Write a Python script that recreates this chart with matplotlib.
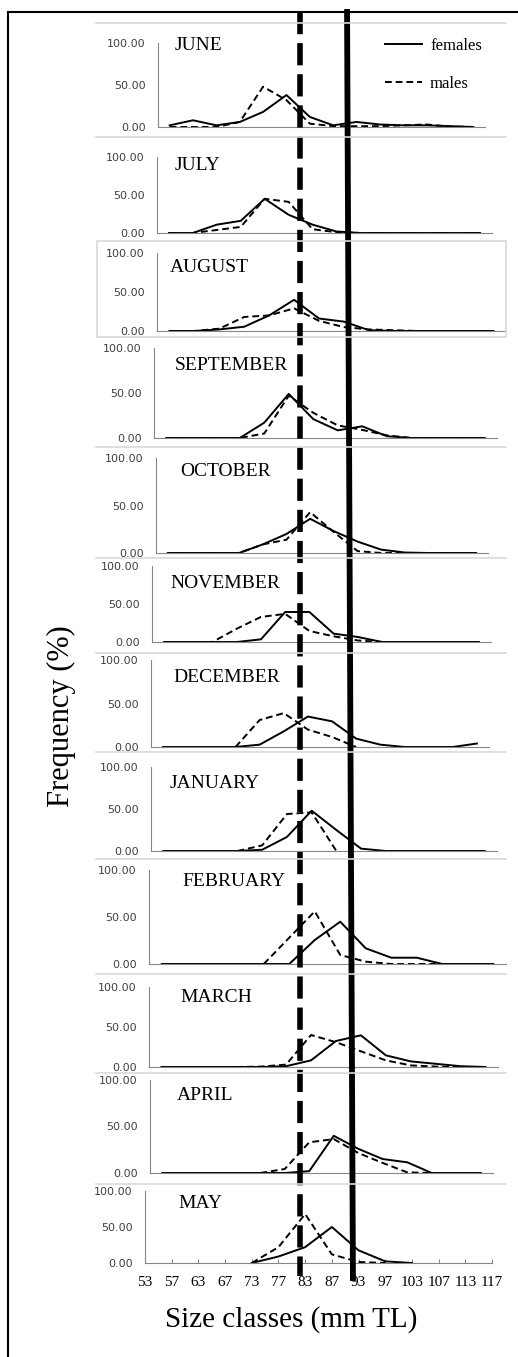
import numpy as np
import matplotlib
matplotlib.use("Agg")
import matplotlib.pyplot as plt
from matplotlib.lines import Line2D
from matplotlib.patches import Rectangle
from matplotlib.ticker import FormatStrFormatter

plt.rcParams['font.family'] = ['Liberation Serif', 'DejaVu Serif']

nan = np.nan

# size classes (mm TL)
size_classes = ['53', '57', '63', '67', '73', '77', '83', '87', '93', '97', '103', '107', '113', '117']
months = ['JUNE', 'JULY', 'AUGUST', 'SEPTEMBER', 'OCTOBER', 'NOVEMBER',
          'DECEMBER', 'JANUARY', 'FEBRUARY', 'MARCH', 'APRIL', 'MAY']

# frequency (%) per size class, f = females, m = males
jun_f = [2, 8, 2, 6, 18, 38, 12, 2, 6, 3, 2, 2, 1, 0]
jun_m = [0, 0, 0, 6, 48, 32, 4, 1, 1, 1, 2, 3, 0.5, 0]
jul_f = [0, 0, 11, 16, 45, 24, 11, 2, 0, 0, 0, 0, 0, 0]
jul_m = [0, 0, 4, 8, 45, 41, 5, 1, 0, 0, 0, 0, 0, 0]
aug_f = [0, 0, 2, 5.5, 20, 40, 16, 12, 1, 0, 0, 0, 0, 0]
aug_m = [0, 0, 3, 18, 20, 29, 13, 5, 2, 1, 0, 0, 0, 0]
sep_f = [0, 0, 0, 0, 17, 49, 21, 8.5, 13, 2, 0, 0, 0, 0]
sep_m = [0, 0, 0, 0, 5, 47, 28, 14, 9, 3, 0, 0, 0, 0]
oct_f = [0, 0, 0, 0, 9, 20, 36, 23, 12, 3.5, 0.5, 0, 0, 0]
oct_m = [0, 0, 0, 0, 9, 14, 43, 22, 2, 0, 0, 0, 0, 0]
nov_f = [0, 0, 0, 0, 3.5, 39.5, 39.5, 11, 6.6, 0, 0, 0, 0, 0]
nov_m = [0, 0, 0, 17.5, 33, 37, 14.5, 7.5, 2, 0, 0, 0, 0, 0]
dec_f = [0, 0, 0, 0, 2.7, 18, 35, 29.5, 9.6, 2.7, 0, 0, 0, 4]
dec_m = [nan, nan, nan, 0, 31, 39, 20, 11.5, 0, nan, nan, nan, nan, nan]
jan_f = [0, 0, 0, 0, 1.5, 16.7, 48, 25, 2.8, 0, 0, 0, 0, 0]
jan_m = [nan, nan, nan, 0, 6.7, 44, 46, 0, nan, nan, nan, nan, nan, nan]
feb_f = [0, 0, 0, 0, 0, 0, 25.5, 45, 16.7, 6.7, 6.7, 0, 0, 0]
feb_m = [nan, nan, nan, nan, 0, 28, 56, 9.6, 2.5, 0, 0, 0, nan, nan]
mar_f = [0, 0, 0, 0, 0, 1, 8.3, 32.5, 39.6, 14.6, 7, 4, 1, 0]
mar_m = [nan, nan, nan, 0, 0.5, 3, 40, 31, 19.6, 8.3, 2, 0.5, 0, nan]
apr_f = [0, 0, 0, 0, 0, 0, 2, 40, 26, 15, 11.5, 0, 0, 0]
apr_m = [nan, nan, nan, nan, 0, 4.3, 33, 36.5, 21.5, 10.8, 0.7, 0, nan, nan]
may_f = [nan, nan, nan, nan, 0, 9, 22, 50, 17.6, 2.3, 0, nan, nan, nan]
may_m = [nan, nan, nan, nan, 0, 22, 68, 12, 1.4, 0, nan, nan, nan, nan]

females = [jun_f, jul_f, aug_f, sep_f, oct_f, nov_f, dec_f, jan_f, feb_f, mar_f, apr_f, may_f]
males = [jun_m, jul_m, aug_m, sep_m, oct_m, nov_m, dec_m, jan_m, feb_m, mar_m, apr_m, may_m]

# L50 marks, in size-class positions (males dashed, females solid, top -> bottom)
l50_males = 5.8
l50_females = (7.57, 7.79)

W, H = 518, 1357
fig = plt.figure(figsize=(W / 100, H / 100), dpi=100)


def fx(px):
    return px / W


def fy(py):
    return 1 - py / H


# panel boxes in pixels: left, right, y of 100, y of 0, label x, label y
panels = [
    (158, 485, 43, 127, 175, 45),
    (157, 492, 157, 233, 175, 165),
    (157, 506, 253, 331, 170, 268),
    (154, 497, 348, 438, 175, 365),
    (156, 488, 458, 553, 180, 472),
    (152, 491, 566, 642, 170, 583),
    (151, 489, 660, 747, 173, 677),
    (151, 497, 767, 851, 170, 783),
    (149, 506, 870, 964, 182, 881),
    (149, 498, 987, 1067, 180, 997),
    (150, 493, 1080, 1173, 177, 1095),
    (145, 492, 1191, 1263, 178, 1204),
]

# light grey chart-area edges
for yy in [23, 137, 447, 558, 653, 752, 859, 974, 1073, 1184]:
    fig.add_artist(Line2D([fx(96), fx(506)], [fy(yy), fy(yy)], color='#d9d9d9', lw=1.2))
fig.add_artist(Rectangle((fx(97), fy(337)), fx(506) - fx(97), (337 - 241) / H,
                         fill=False, edgecolor='#d9d9d9', lw=1.2))

x = np.arange(len(size_classes))
axes = []
for k, (l, r, y100, y0, lx, ly) in enumerate(panels):
    ax = fig.add_axes([fx(l), fy(y0), (r - l) / W, (y0 - y100) / H])
    ax.patch.set_alpha(0)
    ax.plot(x, females[k], color='black', lw=1.4, label='females', clip_on=False)
    ax.plot(x, males[k], color='black', lw=1.4, ls=(0, (3.5, 2)), label='males', clip_on=False)
    ax.set_ylim(0, 100)
    last = k == len(panels) - 1
    ax.set_xlim((0, 13) if last else (-0.5, 13.5))
    ax.set_yticks([0, 50, 100])
    ax.yaxis.set_major_formatter(FormatStrFormatter('%.2f'))
    ax.tick_params(axis='y', length=0, pad=9, labelsize=8, labelcolor='#404040')
    for t in ax.get_yticklabels():
        t.set_family('DejaVu Sans')
    for s in ['top', 'right']:
        ax.spines[s].set_visible(False)
    for s in ['left', 'bottom']:
        ax.spines[s].set_color('#868686')
        ax.spines[s].set_linewidth(0.8)
    if last:
        ax.set_xticks(x)
        ax.set_xticklabels(size_classes)
        ax.tick_params(axis='x', direction='in', length=3, color='#868686', pad=9, labelsize=11)
    else:
        ax.set_xticks([])
    fig.text(fx(lx), fy(ly), months[k], fontsize=14, ha='left', va='center')
    axes.append(ax)

axes[0].legend(loc='upper left', bbox_to_anchor=(fx(385), fy(38)), bbox_transform=fig.transFigure,
               frameon=False, fontsize=12, handlelength=2.2, handletextpad=0.5,
               labelspacing=1.3, borderpad=0, borderaxespad=0)

# overlay with the same size-class scale as the bottom panel, for the L50 lines
ov = fig.add_axes([fx(145), 0, (492 - 145) / W, 1])
ov.set_xlim(0, 13)
ov.set_ylim(H, 0)
ov.axis('off')
ov.patch.set_alpha(0)
ov.plot([l50_males, l50_males], [12, 1276], color='black', lw=4, ls=(0, (4, 1.6)))
ov.plot(list(l50_females), [12, 1278], color='black', lw=4.2)

# outer frame (left and top)
fig.add_artist(Line2D([fx(8), fx(8)], [fy(12), 0], color='black', lw=1.5))
fig.add_artist(Line2D([fx(8), 1], [fy(12), fy(12)], color='black', lw=1.5))

fig.text(fx(61), fy(716), 'Frequency (%)', rotation=90, fontsize=22, ha='center', va='center')
fig.text(fx(291), fy(1320), 'Size classes (mm TL)', fontsize=21, ha='center', va='center')

fig.savefig('out.png', dpi=100)
